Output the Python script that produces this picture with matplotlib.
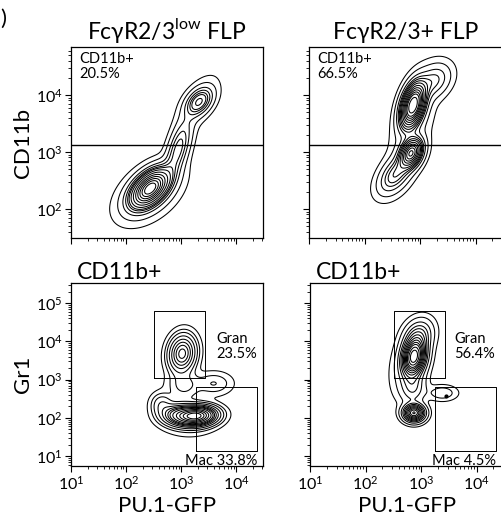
import numpy as np
import matplotlib.pyplot as plt
from matplotlib.ticker import LogLocator, NullFormatter

plt.rcParams['font.family'] = ['Lato', 'DejaVu Sans']
plt.rcParams['mathtext.fontset'] = 'custom'
plt.rcParams['mathtext.rm'] = 'Lato'

# ---- data (log10 units) ----
# population components: x, y, sx, sy, rho, share
top_left_comp = [
    (2.44, 2.36, 0.20, 0.19, 0.50, 0.60),
    (2.42, 2.28, 0.32, 0.28, 0.45, 0.14),
    (2.95, 3.05, 0.14, 0.30, 0.60, 0.12),
    (3.33, 3.88, 0.14, 0.14, 0.40, 0.08),
    (3.30, 3.85, 0.20, 0.25, 0.60, 0.04),
]
top_right_comp = [
    (2.87, 3.82, 0.13, 0.23, 0.40, 0.47),
    (2.84, 2.98, 0.12, 0.15, 0.30, 0.21),
    (2.55, 2.60, 0.18, 0.20, 0.50, 0.12),
    (3.25, 4.25, 0.18, 0.18, 0.30, 0.08),
    (2.85, 3.40, 0.25, 0.55, 0.60, 0.10),
]
bottom_left_comp = [
    (3.28, 2.05, 0.20, 0.14, 0.10, 0.44),
    (2.95, 2.08, 0.18, 0.15, 0.00, 0.15),
    (3.15, 2.00, 0.30, 0.26, 0.00, 0.07),
    (3.02, 3.68, 0.14, 0.28, 0.10, 0.23),
    (3.05, 2.85, 0.18, 0.22, 0.00, 0.04),
    (3.60, 2.90, 0.20, 0.18, 0.00, 0.03),
    (2.65, 2.35, 0.12, 0.18, 0.00, 0.03),
]
bottom_right_comp = [
    (2.87, 3.60, 0.12, 0.28, 0.20, 0.53),
    (2.95, 4.15, 0.15, 0.25, 0.20, 0.12),
    (2.87, 2.13, 0.11, 0.13, 0.00, 0.16),
    (2.85, 2.80, 0.13, 0.25, 0.00, 0.07),
    (3.38, 2.65, 0.16, 0.12, 0.00, 0.02),
    (2.80, 3.40, 0.20, 0.50, 0.30, 0.10),
]
mac_dot = (10**3.45, 10**2.56)

top_titles = ['FcγR2/3$^{\\mathrm{low}}$ FLP', 'FcγR2/3+ FLP']
cd11b_pct = ['20.5%', '66.5%']
gran_pct = ['23.5%', '56.4%']
mac_pct = ['33.8%', '4.5%']
cd11b_gate = 1300

# gates (linear units)
gran_gate_x = [[10**2.51, 10**3.44], [10**2.51, 10**3.42]]
gran_gate_y = [10**3.05, 10**4.79]
mac_gate_x = [[10**3.27, 10**4.38], [10**3.24, 10**4.35]]
mac_gate_y = [10**1.13, 10**2.82]
gran_text_x = [10**3.65, 10**3.60]

x_lim = (10**1, 10**4.49)
top_ylim = (10**1.49, 10**4.84)
bot_ylim = (10**0.74, 10**5.53)

prob_fracs = [0.985, 0.95, 0.88, 0.80, 0.72, 0.64, 0.56, 0.48, 0.40, 0.32, 0.24, 0.16, 0.08]


def density(comps, gx, gy):
    z = np.zeros_like(gx)
    for (mx, my, sx, sy, r, w) in comps:
        dx = (gx - mx) / sx
        dy = (gy - my) / sy
        q = (dx**2 - 2*r*dx*dy + dy**2) / (1 - r**2)
        z += w * np.exp(-0.5*q) / (sx*sy*np.sqrt(1 - r**2))
    return z


def prob_levels(z, fracs):
    zs = np.sort(z.ravel())[::-1]
    cs = np.cumsum(zs)
    cs /= cs[-1]
    return sorted(set(zs[np.searchsorted(cs, f)] for f in fracs))


def contour_panel(ax, comps, ylim):
    gx, gy = np.meshgrid(np.linspace(np.log10(x_lim[0]), np.log10(x_lim[1]), 450),
                         np.linspace(np.log10(ylim[0]), np.log10(ylim[1]), 450))
    z = density(comps, gx, gy)
    ax.contour(10**gx, 10**gy, z, levels=prob_levels(z, prob_fracs),
               colors='black', linewidths=0.75)


def style_axes(ax, ylim, show_x, show_y):
    ax.set_xscale('log')
    ax.set_yscale('log')
    ax.set_xlim(*x_lim)
    ax.set_ylim(*ylim)
    for a in (ax.xaxis, ax.yaxis):
        a.set_major_locator(LogLocator(base=10))
        a.set_minor_locator(LogLocator(base=10, subs=np.arange(2, 10)))
        a.set_minor_formatter(NullFormatter())
    ax.tick_params(which='major', direction='out', length=4, width=0.8, labelsize=11.5, pad=2)
    ax.tick_params(which='minor', direction='out', length=2, width=0.6)
    if not show_x:
        ax.xaxis.set_major_formatter(NullFormatter())
    if not show_y:
        ax.yaxis.set_major_formatter(NullFormatter())
    for s in ax.spines.values():
        s.set_linewidth(0.9)


fig = plt.figure(figsize=(5.01, 5.31), dpi=100)
W, H = 501, 531


def add_ax(x0, y0, x1, y1):
    return fig.add_axes([x0/W, 1 - y1/H, (x1-x0)/W, (y1-y0)/H])


axes_top = [add_ax(71, 47, 263, 238), add_ax(309, 47, 503, 238)]
axes_bot = [add_ax(71, 283, 263, 466), add_ax(310, 283, 504, 466)]

top_comps = [top_left_comp, top_right_comp]
bot_comps = [bottom_left_comp, bottom_right_comp]

for i, ax in enumerate(axes_top):
    contour_panel(ax, top_comps[i], top_ylim)
    style_axes(ax, top_ylim, False, i == 0)
    ax.axhline(cd11b_gate, color='black', lw=1.0)
    ax.text(0.045, 0.975, 'CD11b+\n' + cd11b_pct[i], transform=ax.transAxes,
            ha='left', va='top', fontsize=10.5, linespacing=1.1)
    ax.set_title(top_titles[i], fontsize=16.5, pad=6)

for i, ax in enumerate(axes_bot):
    contour_panel(ax, bot_comps[i], bot_ylim)
    style_axes(ax, bot_ylim, True, i == 0)
    gx0, gx1 = gran_gate_x[i]
    ax.plot([gx0, gx1, gx1, gx0, gx0],
            [gran_gate_y[0], gran_gate_y[0], gran_gate_y[1], gran_gate_y[1], gran_gate_y[0]],
            color='black', lw=0.7)
    mx0, mx1 = mac_gate_x[i]
    ax.plot([mx0, mx1, mx1, mx0, mx0],
            [mac_gate_y[0], mac_gate_y[0], mac_gate_y[1], mac_gate_y[1], mac_gate_y[0]],
            color='black', lw=0.7)
    ax.text(gran_text_x[i], 10**3.87, 'Gran\n' + gran_pct[i], ha='left', va='center',
            fontsize=10.5, linespacing=1.1)
    ax.text(mx1, 10**0.87, 'Mac ' + mac_pct[i], ha='right', va='center', fontsize=10.5)
    ax.set_title('CD11b+', fontsize=16.5, loc='left', pad=3, x=0.03)
    ax.set_xlabel('PU.1-GFP', fontsize=16, labelpad=3)

axes_bot[1].plot(*mac_dot, 'o', color='black', ms=2)

axes_top[0].set_ylabel('CD11b', fontsize=16, labelpad=2)
axes_bot[0].set_ylabel('Gr1', fontsize=16, labelpad=2)

fig.text(0.0, 0.965, ')', fontsize=16, ha='left', va='center')

plt.savefig('out.png', dpi=100)
